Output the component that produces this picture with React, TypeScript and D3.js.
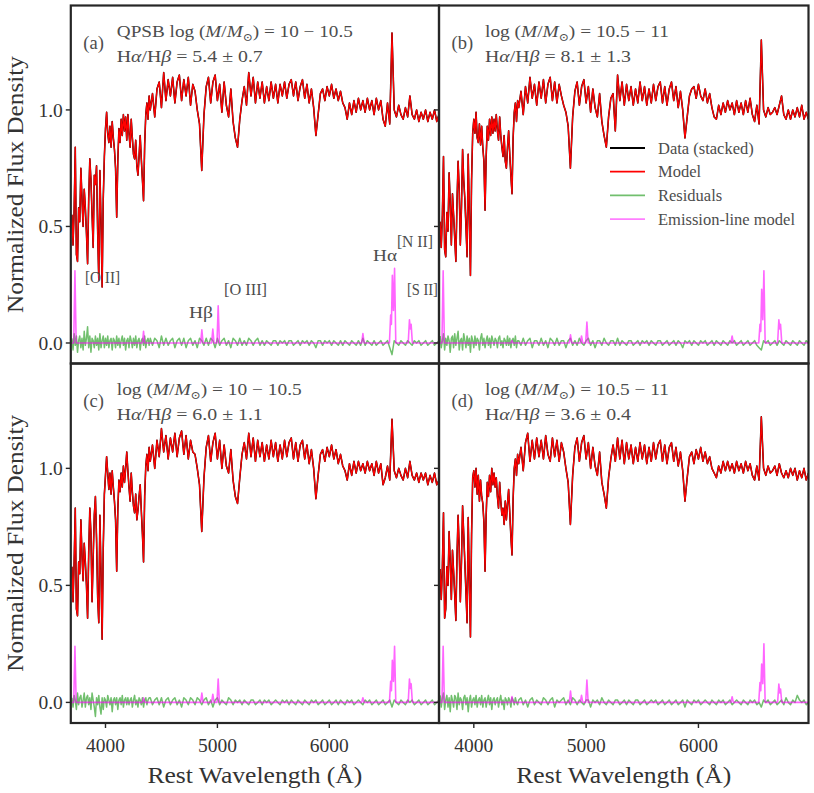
import React from 'react';
import * as d3 from 'd3';

// wavelength grid (Å): 10 Å steps blueward of 4400, 20 Å steps redward
const waveBlue = d3.range(3700, 4400, 10);
const waveRed = d3.range(4400, 6990, 20);
const wave = [...waveBlue, ...waveRed];

// normalized flux (data and model overlap)
const fluxA = [
  0.55, 0.42, 0.57, 0.84, 0.38, 0.35, 0.58, 0.52, 0.75, 0.62,
  0.50, 0.66, 0.58, 0.47, 0.34, 0.62, 0.79, 0.70, 0.55, 0.41,
  0.72, 0.68, 0.76, 0.48, 0.27, 0.74, 0.52, 0.24, 0.62, 0.80,
  0.92, 0.99, 0.90, 0.86, 0.93, 0.84, 0.95, 0.88, 0.83, 0.75,
  0.54, 0.78, 0.92, 0.86, 0.96, 0.89, 0.98, 0.91, 0.97, 0.87,
  0.98, 0.90, 0.84, 0.96, 0.88, 0.81, 0.79, 0.87, 0.76, 0.72,
  0.80, 0.89, 0.79, 0.70, 0.61, 0.85, 0.98, 1.03, 0.96, 1.06,
  // 4400 ->
  1.00, 1.07, 0.97, 1.09, 1.12, 1.01, 1.16, 1.04, 1.13, 1.06,
  1.14, 1.03, 1.12, 1.15, 1.04, 1.13, 1.06, 1.14, 1.02, 1.11,
  1.08, 1.00, 0.94, 0.74, 0.98, 1.10, 1.14, 1.03, 1.12, 1.15,
  1.04, 1.11, 0.99, 1.12, 1.02, 0.97, 1.09, 0.95, 0.88, 0.84,
  0.96, 1.04, 1.10, 1.02, 1.16, 1.06, 1.14, 1.03, 1.12, 1.05,
  1.12, 1.03, 1.10, 1.04, 1.12, 1.05, 1.11, 1.03, 1.11, 1.06,
  1.12, 1.05, 1.11, 1.13, 1.06, 1.12, 1.04, 1.10, 1.13, 1.05,
  1.11, 1.03, 1.09, 1.01, 0.89, 0.98, 1.07, 1.09, 1.04, 1.10,
  1.06, 1.11, 1.05, 1.09, 1.04, 1.08, 1.03, 1.01, 0.96, 1.03,
  0.98, 1.04, 0.99, 1.05, 1.00, 1.04, 0.99, 1.05, 1.00, 1.04,
  0.98, 1.05, 1.00, 1.04, 0.96, 0.93, 1.03, 0.94, 1.33, 1.00,
  0.97, 1.02, 0.98, 0.96, 1.01, 0.97, 1.06, 0.98, 0.96, 1.00,
  0.95, 0.99, 0.96, 1.00, 0.95, 0.99, 0.96, 1.00, 0.95, 0.98,
];

const fluxB = [
  0.52, 0.41, 0.55, 0.80, 0.40, 0.37, 0.56, 0.48, 0.73, 0.60,
  0.42, 0.64, 0.55, 0.45, 0.35, 0.60, 0.78, 0.66, 0.42, 0.58,
  0.83, 0.70, 0.62, 0.50, 0.37, 0.81, 0.55, 0.29, 0.70, 0.90,
  0.96, 0.90, 0.99, 0.88, 0.86, 0.94, 0.85, 0.93, 0.84, 0.78,
  0.57, 0.80, 0.93, 0.87, 0.96, 0.89, 0.97, 0.90, 0.96, 0.91,
  0.98, 0.91, 0.87, 0.97, 0.89, 0.84, 0.80, 0.89, 0.78, 0.75,
  0.84, 0.91, 0.81, 0.72, 0.64, 0.88, 0.99, 1.03, 0.95, 1.04,
  // 4400 ->
  1.01, 1.08, 0.98, 1.10, 1.03, 1.14, 1.05, 1.11, 1.02, 1.12,
  1.05, 1.13, 1.03, 1.11, 1.14, 1.04, 1.12, 1.03, 1.11, 1.06,
  1.02, 0.99, 0.93, 0.75, 0.97, 1.08, 1.12, 1.02, 1.10, 1.13,
  1.03, 1.10, 0.99, 1.09, 1.01, 0.97, 1.07, 0.95, 0.89, 0.84,
  0.97, 1.05, 1.07, 0.91, 1.15, 1.04, 1.12, 1.02, 1.11, 1.04,
  1.10, 1.02, 1.09, 1.03, 1.12, 1.04, 1.10, 1.02, 1.09, 1.03,
  1.11, 1.04, 1.10, 1.12, 1.03, 1.10, 1.02, 1.09, 1.12, 1.04,
  1.10, 1.01, 1.08, 1.00, 0.88, 0.97, 1.06, 1.09, 1.10, 1.05,
  1.11, 1.06, 1.04, 1.09, 1.03, 1.07, 1.01, 0.97, 0.96, 1.02,
  0.98, 1.03, 0.99, 1.04, 1.00, 1.03, 0.98, 1.04, 0.99, 1.03,
  0.98, 1.04, 0.99, 1.05, 0.98, 0.95, 1.02, 0.94, 1.30, 1.00,
  0.97, 1.01, 0.98, 0.99, 1.01, 0.98, 1.02, 1.06, 0.98, 0.96,
  1.00, 0.96, 1.00, 0.97, 1.01, 0.97, 1.02, 0.96, 0.99, 0.96,
];

const fluxC = [
  0.58, 0.43, 0.60, 0.83, 0.40, 0.37, 0.60, 0.55, 0.78, 0.63,
  0.52, 0.68, 0.60, 0.50, 0.36, 0.64, 0.83, 0.72, 0.43, 0.62,
  0.80, 0.88, 0.70, 0.45, 0.34, 0.80, 0.55, 0.27, 0.66, 0.89,
  0.97, 1.05, 0.98, 0.91, 0.98, 0.89, 0.99, 0.92, 0.86, 0.78,
  0.56, 0.82, 0.95, 0.90, 0.98, 0.92, 1.01, 0.94, 1.00, 1.07,
  0.99, 0.92, 0.86, 0.98, 0.90, 0.84, 0.81, 0.89, 0.78, 0.82,
  0.88, 0.93, 0.82, 0.72, 0.60, 0.88, 1.01, 1.06, 0.99, 1.09,
  // 4400 ->
  1.03, 1.10, 1.00, 1.12, 1.05, 1.17, 1.07, 1.14, 1.04, 1.13,
  1.07, 1.15, 1.05, 1.13, 1.16, 1.06, 1.14, 1.04, 1.12, 1.07,
  1.06, 1.00, 0.93, 0.73, 0.96, 1.09, 1.14, 1.03, 1.11, 1.15,
  1.04, 1.12, 1.00, 1.10, 1.01, 0.98, 1.08, 0.95, 0.88, 0.85,
  0.96, 1.06, 1.11, 1.04, 1.15, 1.05, 1.13, 1.03, 1.12, 1.05,
  1.11, 1.03, 1.10, 1.04, 1.12, 1.05, 1.11, 1.03, 1.10, 1.04,
  1.12, 1.05, 1.11, 1.13, 1.04, 1.11, 1.03, 1.10, 1.12, 1.04,
  1.10, 1.02, 1.08, 1.00, 0.87, 0.97, 1.06, 1.08, 1.03, 1.09,
  1.05, 1.10, 1.04, 1.08, 1.02, 1.06, 1.01, 0.99, 0.95, 1.02,
  0.97, 1.03, 0.98, 1.03, 0.99, 1.02, 0.98, 1.03, 0.99, 1.02,
  0.97, 1.03, 0.98, 1.02, 0.93, 0.96, 1.01, 0.95, 1.21, 0.99,
  0.96, 1.00, 0.97, 0.95, 1.00, 0.96, 1.03, 0.97, 0.95, 0.98,
  0.94, 0.98, 0.95, 0.98, 0.93, 0.97, 0.94, 0.98, 0.93, 0.95,
];

const fluxD = [
  0.57, 0.44, 0.58, 0.81, 0.36, 0.40, 0.58, 0.50, 0.73, 0.60,
  0.44, 0.65, 0.56, 0.46, 0.35, 0.62, 0.80, 0.66, 0.43, 0.60,
  0.84, 0.72, 0.60, 0.47, 0.34, 0.79, 0.52, 0.28, 0.72, 0.96,
  0.99, 0.92, 1.00, 0.89, 0.97, 0.86, 0.95, 0.88, 0.85, 0.77,
  0.56, 0.80, 0.94, 0.88, 0.97, 0.90, 1.00, 0.93, 0.98, 0.92,
  0.96, 0.88, 0.83, 0.94, 0.86, 0.80, 0.83, 0.76, 0.86, 0.78,
  0.85, 0.91, 0.81, 0.71, 0.63, 0.87, 1.00, 1.04, 0.97, 1.06,
  // 4400 ->
  1.02, 1.09, 0.99, 1.11, 1.15, 1.03, 1.12, 1.04, 1.13, 1.05,
  1.12, 1.04, 1.14, 1.06, 1.03, 1.13, 1.05, 1.12, 1.03, 1.11,
  1.07, 1.00, 0.94, 0.76, 0.97, 1.09, 1.13, 1.03, 1.11, 1.14,
  1.04, 1.11, 1.00, 1.09, 1.01, 0.97, 1.07, 0.94, 0.89, 0.83,
  0.96, 1.04, 1.10, 1.03, 1.13, 1.04, 1.12, 1.02, 1.11, 1.04,
  1.10, 1.02, 1.09, 1.03, 1.11, 1.04, 1.10, 1.02, 1.09, 1.03,
  1.11, 1.04, 1.10, 1.12, 1.03, 1.10, 1.02, 1.09, 1.11, 1.03,
  1.09, 1.01, 1.07, 0.99, 0.86, 0.96, 1.05, 1.07, 1.02, 1.08,
  1.04, 1.09, 1.03, 1.07, 1.02, 1.05, 1.00, 0.98, 0.96, 1.01,
  0.98, 1.03, 0.99, 1.03, 0.99, 1.02, 0.98, 1.03, 0.99, 1.02,
  0.98, 1.03, 0.99, 1.02, 0.97, 0.95, 1.01, 0.95, 1.22, 1.00,
  0.97, 1.01, 0.98, 0.99, 1.01, 0.97, 1.02, 0.98, 0.96, 0.99,
  0.96, 1.00, 0.97, 1.00, 0.95, 0.99, 0.96, 1.00, 0.95, 0.98,
];

// residuals (data - model)
const residA = [
  0.02, -0.03, 0.04, -0.01, 0.03, -0.04, 0.01, 0.03, -0.02, 0.02,
  -0.03, 0.05, -0.01, 0.02, 0.07, -0.02, 0.03, -0.04, 0.02, 0.01,
  -0.02, 0.03, -0.01, 0.02, -0.03, 0.04, -0.02, 0.01, 0.03, -0.02,
  0.02, -0.01, 0.03, -0.02, 0.01, 0.02, -0.03, 0.02, 0.01, -0.02,
  0.03, -0.01, 0.02, -0.02, 0.01, 0.03, -0.01, 0.02, -0.03, 0.01,
  0.02, -0.02, 0.03, 0.01, -0.02, 0.02, -0.01, 0.03, -0.02, 0.01,
  0.02, -0.03, 0.01, 0.02, -0.01, 0.03, -0.02, 0.01, 0.02, -0.01,
  0.02, -0.01, 0.02, 0.01, -0.02, 0.03, -0.01, 0.02, -0.01, 0.01,
  0.02, -0.02, 0.01, 0.02, -0.01, 0.02, -0.02, 0.01, 0.02, -0.01,
  0.01, -0.02, 0.02, 0.01, -0.01, 0.02, -0.01, 0.02, 0.01, -0.02,
  0.02, -0.01, 0.01, 0.02, -0.01, 0.01, -0.02, 0.02, 0.01, -0.01,
  0.02, -0.01, 0.01, -0.01, 0.02, 0.01, -0.01, 0.01, 0.02, -0.01,
  0.01, -0.01, 0.01, 0.0, -0.01, 0.01, 0.01, -0.01, 0.01, 0.0,
  0.01, -0.01, 0.01, 0.01, -0.01, 0.0, 0.01, -0.01, 0.01, 0.0,
  0.01, -0.01, 0.01, 0.0, -0.02, 0.01, 0.01, -0.01, 0.01, 0.0,
  0.01, -0.01, 0.01, 0.0, -0.01, 0.01, -0.01, 0.01, 0.0, -0.01,
  0.01, 0.0, -0.01, 0.01, -0.01, 0.02, -0.01, 0.01, 0.0, -0.01,
  0.01, -0.01, 0.0, 0.01, -0.01, 0.0, 0.01, -0.02, -0.05, 0.01,
  0.0, -0.01, 0.01, 0.0, -0.01, 0.01, 0.0, -0.01, 0.01, 0.0,
  0.01, -0.01, 0.0, 0.01, -0.01, 0.0, 0.01, -0.01, 0.0, 0.01,
];

const residB = [
  0.03, -0.02, 0.01, 0.04, -0.03, 0.02, -0.01, 0.03, 0.01, -0.04,
  0.02, 0.03, -0.02, 0.04, -0.01, 0.02, 0.05, -0.03, 0.01, 0.02,
  -0.03, 0.04, 0.01, -0.02, 0.03, -0.01, 0.02, -0.04, 0.03, 0.01,
  -0.02, 0.03, -0.01, 0.02, 0.01, -0.03, 0.02, 0.04, -0.01, 0.02,
  -0.02, 0.01, 0.03, -0.01, 0.02, -0.02, 0.03, 0.01, -0.01, 0.02,
  0.01, -0.02, 0.02, 0.03, -0.01, 0.01, -0.02, 0.02, 0.01, -0.01,
  0.03, -0.01, 0.02, -0.02, 0.01, 0.02, -0.01, 0.03, -0.02, 0.01,
  0.01, -0.01, 0.02, -0.01, 0.01, 0.02, -0.02, 0.01, 0.01, -0.01,
  0.02, -0.01, 0.01, -0.02, 0.02, 0.01, -0.01, 0.02, -0.01, 0.01,
  0.01, -0.02, 0.01, 0.02, -0.01, 0.01, -0.01, 0.02, 0.0, -0.01,
  0.01, 0.02, -0.01, 0.01, -0.02, 0.01, 0.01, -0.01, 0.02, 0.0,
  -0.01, 0.01, 0.01, -0.01, 0.02, -0.01, 0.01, 0.0, -0.01, 0.01,
  0.01, -0.01, 0.0, 0.01, -0.01, 0.01, 0.0, 0.01, -0.01, 0.01,
  0.0, -0.01, 0.01, 0.01, -0.01, 0.0, 0.01, -0.01, 0.0, 0.01,
  -0.01, 0.01, 0.0, -0.02, 0.01, 0.0, 0.01, -0.01, 0.01, 0.0,
  -0.01, 0.01, 0.0, 0.01, -0.01, 0.0, 0.01, -0.01, 0.01, 0.0,
  -0.01, 0.01, 0.0, -0.01, 0.01, 0.0, 0.01, -0.01, 0.0, 0.01,
  -0.01, 0.0, 0.01, -0.01, 0.0, 0.01, -0.01, -0.02, -0.03, 0.01,
  0.0, 0.01, -0.01, 0.0, 0.01, -0.01, 0.01, 0.0, -0.01, 0.01,
  0.0, -0.01, 0.01, 0.0, -0.01, 0.01, 0.0, -0.01, 0.01, 0.0,
];

const residC = [
  0.02, -0.02, 0.03, 0.01, -0.03, 0.04, -0.01, 0.02, 0.03, -0.02,
  0.01, 0.04, -0.02, 0.02, 0.03, -0.01, 0.02, -0.03, 0.04, 0.01,
  -0.02, -0.06, 0.02, -0.01, 0.03, -0.02, -0.05, 0.02, -0.03, 0.02,
  0.01, -0.02, 0.03, 0.01, -0.01, 0.02, -0.04, 0.01, 0.02, -0.01,
  0.02, -0.03, 0.01, 0.02, -0.01, 0.03, -0.02, 0.01, 0.02, -0.01,
  0.02, -0.01, 0.01, 0.02, -0.02, 0.01, 0.03, -0.01, 0.01, -0.02,
  0.02, 0.01, -0.01, 0.02, -0.02, 0.01, 0.02, -0.01, 0.01, 0.02,
  0.02, -0.01, 0.01, 0.02, -0.01, 0.02, -0.02, 0.01, 0.02, -0.01,
  0.01, 0.02, -0.01, 0.01, -0.02, 0.02, 0.01, -0.01, 0.02, 0.01,
  -0.01, 0.02, 0.01, -0.01, 0.01, 0.02, -0.01, 0.01, -0.02, 0.01,
  0.02, -0.01, 0.01, 0.0, -0.01, 0.02, 0.01, -0.01, 0.01, 0.0,
  0.01, -0.01, 0.01, 0.0, -0.01, 0.01, 0.01, -0.01, 0.0, 0.01,
  -0.01, 0.01, 0.0, 0.01, -0.01, 0.0, 0.01, 0.0, -0.01, 0.01,
  0.0, 0.01, -0.01, 0.01, 0.0, -0.01, 0.01, 0.0, -0.01, 0.01,
  0.0, -0.01, 0.01, 0.0, 0.01, -0.01, 0.0, 0.01, -0.01, 0.0,
  0.01, -0.01, 0.0, 0.01, -0.01, 0.01, 0.0, -0.01, 0.01, 0.0,
  0.01, -0.01, 0.0, 0.01, 0.0, -0.01, 0.01, 0.0, 0.01, -0.01,
  0.0, 0.01, -0.01, 0.0, 0.01, -0.01, 0.0, 0.01, -0.02, 0.01,
  0.0, -0.01, 0.01, 0.0, -0.01, 0.01, 0.0, 0.01, -0.01, 0.0,
  0.01, -0.01, 0.0, 0.01, -0.01, 0.0, 0.01, -0.01, 0.0, 0.01,
];

const residD = [
  0.03, -0.02, 0.02, 0.04, -0.03, 0.01, 0.03, -0.02, 0.02, -0.04,
  0.03, 0.01, -0.02, 0.03, 0.02, -0.03, 0.04, -0.01, 0.02, 0.01,
  -0.03, 0.02, 0.03, -0.01, 0.02, -0.04, 0.01, 0.03, -0.02, 0.01,
  0.02, -0.01, 0.03, -0.02, 0.01, 0.02, -0.01, 0.03, -0.02, 0.01,
  0.02, -0.02, 0.01, 0.03, -0.01, 0.02, -0.03, 0.01, 0.02, -0.01,
  0.01, 0.02, -0.02, 0.01, 0.03, -0.01, 0.01, -0.03, 0.02, 0.01,
  -0.01, 0.02, 0.01, -0.02, 0.02, 0.01, -0.01, 0.02, 0.0, -0.01,
  0.01, 0.02, -0.01, 0.01, -0.02, 0.01, 0.02, -0.01, 0.01, 0.0,
  -0.01, 0.02, 0.01, -0.01, 0.01, 0.02, -0.02, 0.01, 0.0, 0.01,
  0.02, -0.01, 0.01, -0.01, 0.02, 0.01, -0.01, 0.01, 0.0, -0.01,
  0.01, 0.01, -0.02, 0.01, 0.0, 0.01, -0.01, 0.02, 0.0, -0.01,
  0.01, 0.0, -0.01, 0.01, 0.01, -0.01, 0.0, 0.01, -0.01, 0.01,
  0.0, -0.01, 0.01, 0.01, -0.01, 0.0, 0.01, -0.01, 0.0, 0.01,
  0.0, 0.01, -0.01, 0.0, 0.01, -0.01, 0.0, 0.01, -0.01, 0.0,
  0.01, -0.01, 0.0, 0.01, -0.02, 0.01, 0.0, -0.01, 0.01, 0.0,
  0.01, -0.01, 0.0, 0.01, 0.0, -0.01, 0.01, 0.0, -0.01, 0.01,
  0.0, 0.01, -0.01, 0.0, 0.01, -0.01, 0.0, 0.01, 0.0, -0.01,
  0.01, 0.0, -0.01, 0.01, 0.0, 0.01, -0.01, 0.0, -0.02, 0.01,
  0.0, 0.01, -0.01, 0.0, 0.01, -0.01, 0.0, 0.01, -0.01, 0.02,
  0.0, -0.01, 0.01, 0.0, 0.03, 0.01, 0.0, 0.01, -0.01, 0.0,
];

// emission-line model: wavelengths around each line and the model value there
const emWave = [
  3690, 3716, 3727, 3738, 4330, 4340, 4350, 4850, 4861, 4872, 4948,
  4959, 4970, 4996, 5007, 5018, 6289, 6300, 6311, 6537, 6548, 6555,
  6563, 6573, 6583, 6594, 6705, 6716, 6724, 6731, 6742, 6980,
];
const emA = [0, 0, 0.31, 0, 0, 0.05, 0, 0, 0.057, 0, 0, 0.06, 0, 0, 0.16, 0, 0, 0.04, 0, 0, 0.12, 0.08, 0.29, 0.14, 0.32, 0, 0, 0.1, 0.06, 0.08, 0, 0];
const emB = [0, 0, 0.31, 0, 0, 0.01, 0, 0, 0.035, 0, 0, 0.03, 0, 0, 0.09, 0, 0, 0.03, 0, 0, 0.08, 0.05, 0.23, 0.1, 0.31, 0, 0, 0.1, 0.06, 0.08, 0, 0];
const emC = [0, 0, 0.24, 0, 0, 0.02, 0, 0, 0.04, 0, 0, 0.035, 0, 0, 0.1, 0, 0, 0.02, 0, 0, 0.09, 0.05, 0.18, 0.09, 0.24, 0, 0, 0.1, 0.06, 0.08, 0, 0];
const emD = [0, 0, 0.24, 0, 0, 0.025, 0, 0, 0.048, 0, 0, 0.03, 0, 0, 0.096, 0, 0, 0.024, 0, 0, 0.085, 0.05, 0.164, 0.08, 0.25, 0, 0, 0.078, 0.04, 0.057, 0, 0];

const xTicks = [4000, 5000, 6000];
const yTicks = [0, 0.5, 1.0];
const xDomain = [3690, 6980];
const yDomain = [-0.088, 1.448];

// line labels in panel (a): [text, wavelength, flux] where the label starts
const lineLabels: [string, number, number][] = [
  ['[O II]', 3817, 0.256],
  ['Hβ', 4746, 0.107],
  ['[O III]', 5059, 0.204],
  ['Hα', 6390, 0.352],
  ['[N II]', 6604, 0.41],
  ['[S II]', 6693, 0.204],
];
const labelWidth: Record<string, number> = {
  '[O II]': 35,
  'Hβ': 24,
  '[O III]': 43,
  'Hα': 24,
  '[N II]': 36,
  '[S II]': 31,
};

const legendItems = [
  { label: 'Data (stacked)', color: '#000000', opacity: 1 },
  { label: 'Model', color: '#ff0000', opacity: 1 },
  { label: 'Residuals', color: '#4daf4a', opacity: 0.8 },
  { label: 'Emission-line model', color: '#ff00ff', opacity: 0.5 },
];

const colX = [
  [70.8, 439],
  [439, 808.5],
];
const rowY = [
  [5.5, 363.5],
  [363.5, 723],
];

const FONT = "'Liberation Serif', 'DejaVu Serif', serif";
const FRAME = '#262626';
const TEXT = '#4d4d4d';

interface PanelProps {
  tag: string;
  prefix: string;
  mass: string;
  ratio: string;
  massLen: number;
  flux: number[];
  resid: number[];
  emission: number[];
  col: number;
  row: number;
  legend?: boolean;
  labels?: boolean;
}

const Panel = ({ tag, prefix, mass, ratio, massLen, flux, resid, emission, col, row, legend, labels }: PanelProps) => {
  const [x0, x1] = colX[col];
  const [y0, y1] = rowY[row];
  const x = d3.scaleLinear().domain(xDomain).range([x0, x1]);
  const y = d3.scaleLinear().domain(yDomain).range([y1, y0]);
  const spec = d3
    .line<number>()
    .x((_, i) => x(wave[i]))
    .y((d) => y(d));
  const em = d3
    .line<number>()
    .x((_, i) => x(emWave[i]))
    .y((d) => y(d));
  const clip = `clip-${tag}`;

  return (
    <g>
      <clipPath id={clip}>
        <rect x={x0} y={y0} width={x1 - x0} height={y1 - y0} />
      </clipPath>
      <g clipPath={`url(#${clip})`} fill="none" strokeLinejoin="round">
        <path d={spec(flux) ?? ''} stroke="#000" strokeWidth={1.55} />
        <path d={spec(flux) ?? ''} stroke="#ff0000" strokeWidth={1.3} />
        <path d={spec(resid) ?? ''} stroke="#4daf4a" strokeOpacity={0.8} strokeWidth={1.5} />
        <path d={em(emission) ?? ''} stroke="#ff00ff" strokeOpacity={0.6} strokeWidth={1.6} />
      </g>

      {labels &&
        lineLabels.map(([t, w, f]) => (
          <text key={t} x={x(w)} y={y(f)} fontSize={17} fill={TEXT} textLength={labelWidth[t]} lengthAdjust="spacingAndGlyphs">
            {t}
          </text>
        ))}

      {legend &&
        legendItems.map((d, i) => {
          const ly = y0 + 142.5 + i * 23.7;
          return (
            <g key={d.label}>
              <line x1={x0 + 171} x2={x0 + 206} y1={ly} y2={ly} stroke={d.color} strokeOpacity={d.opacity} strokeWidth={1.8} />
              <text x={x0 + 219} y={ly + 5.5} fontSize={16.5} fill={TEXT}>
                {d.label}
              </text>
            </g>
          );
        })}

      <text x={x0 + 12.5} y={y0 + 43.5} fontSize={18.5} fill={TEXT}>
        ({tag})
      </text>
      <text x={x0 + 46} y={y0 + 31.5} fontSize={17.5} fill={TEXT} textLength={massLen} lengthAdjust="spacingAndGlyphs">
        <tspan>{prefix}log (</tspan>
        <tspan fontStyle="italic">M</tspan>
        <tspan>/</tspan>
        <tspan fontStyle="italic">M</tspan>
        <tspan fontSize={11} dy={4}>⊙</tspan>
        <tspan dy={-4}>) = {mass}</tspan>
      </text>
      <text x={x0 + 46} y={y0 + 56.5} fontSize={17.5} fill={TEXT} textLength={146} lengthAdjust="spacingAndGlyphs">
        <tspan>H</tspan>
        <tspan fontStyle="italic">α</tspan>
        <tspan>/H</tspan>
        <tspan fontStyle="italic">β</tspan>
        <tspan> = {ratio}</tspan>
      </text>

      <rect x={x0} y={y0} width={x1 - x0} height={y1 - y0} fill="none" stroke={FRAME} strokeWidth={2.2} />

      {yTicks.map((t) => (
        <g key={t}>
          <line x1={x0 - 5} x2={x0} y1={y(t)} y2={y(t)} stroke={FRAME} strokeWidth={1.4} />
          {col === 0 && (
            <text x={x0 - 8} y={y(t)} dy="0.35em" textAnchor="end" fontSize={19.5} fill="#333">
              {t.toFixed(1)}
            </text>
          )}
        </g>
      ))}

      {row === 1 &&
        xTicks.map((t) => (
          <g key={t}>
            <line x1={x(t)} x2={x(t)} y1={y1} y2={y1 + 5} stroke={FRAME} strokeWidth={1.4} />
            <text x={x(t)} y={y1 + 28.5} textAnchor="middle" fontSize={19.5} fill="#333">
              {t}
            </text>
          </g>
        ))}

      {row === 1 && (
        <text x={(x0 + x1) / 2} y={783} textAnchor="middle" fontSize={23} fill="#333" textLength={215} lengthAdjust="spacingAndGlyphs">
          Rest Wavelength (Å)
        </text>
      )}
      {col === 0 && (
        <text
          transform={`translate(23,${(y0 + y1) / 2}) rotate(-90)`}
          textAnchor="middle"
          fontSize={23}
          fill="#333"
          textLength={257}
          lengthAdjust="spacingAndGlyphs"
        >
          Normalized Flux Density
        </text>
      )}
    </g>
  );
};

const App = () => (
  <div style={{ position: 'absolute', left: 0, top: 0 }}>
    <svg width={814} height={793} style={{ display: 'block', fontFamily: FONT, background: '#fff' }}>
      <Panel tag="a" prefix="QPSB " mass="10 − 10.5" ratio="5.4 ± 0.7" massLen={236} flux={fluxA} resid={residA} emission={emA} col={0} row={0} labels />
      <Panel tag="b" prefix="" mass="10.5 − 11" ratio="8.1 ± 1.3" massLen={184} flux={fluxB} resid={residB} emission={emB} col={1} row={0} legend />
      <Panel tag="c" prefix="" mass="10 − 10.5" ratio="6.0 ± 1.1" massLen={185} flux={fluxC} resid={residC} emission={emC} col={0} row={1} />
      <Panel tag="d" prefix="" mass="10.5 − 11" ratio="3.6 ± 0.4" massLen={184} flux={fluxD} resid={residD} emission={emD} col={1} row={1} />
    </svg>
  </div>
);

export default App;
